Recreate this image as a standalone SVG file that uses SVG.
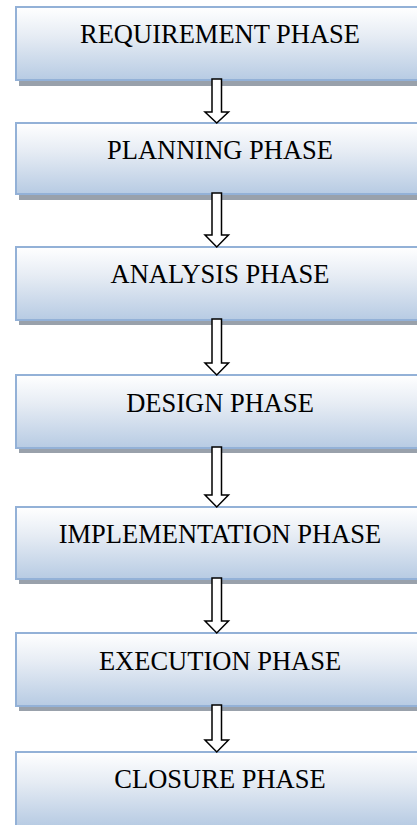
<svg xmlns="http://www.w3.org/2000/svg" width="417" height="825" viewBox="0 0 417 825">
<defs>
<linearGradient id="g" x1="0" y1="0" x2="0" y2="1">
<stop offset="0" stop-color="#ffffff"/>
<stop offset="0.4" stop-color="#e6ecf4"/>
<stop offset="1" stop-color="#b7cbe3"/>
</linearGradient>
<style>
.box{fill:url(#g);stroke:#93b1d7;stroke-width:2}
.sh{fill:#99a1ab}
.t{font-family:"Liberation Serif","Times New Roman",serif;font-size:26.5px;fill:#000;text-anchor:middle}
.arr{fill:#fff;stroke:#000;stroke-width:1.5;stroke-linejoin:miter}
</style>
</defs>
<rect width="417" height="825" fill="#fff"/>
<g id="n1"><rect class="sh" x="19" y="12" width="408" height="74"/><rect class="box" x="16" y="7" width="408" height="73"/><text class="t" x="220" y="43">REQUIREMENT PHASE</text></g>
<g id="n2"><rect class="sh" x="19" y="128" width="408" height="72"/><rect class="box" x="16" y="123" width="408" height="71"/><text class="t" x="220" y="159">PLANNING PHASE</text></g>
<g id="n3"><rect class="sh" x="19" y="252" width="408" height="73"/><rect class="box" x="16" y="247" width="408" height="73"/><text class="t" x="220" y="283">ANALYSIS PHASE</text></g>
<g id="n4"><rect class="sh" x="19" y="380" width="408" height="73"/><rect class="box" x="16" y="375" width="408" height="73"/><text class="t" x="220" y="412">DESIGN PHASE</text></g>
<g id="n5"><rect class="sh" x="19" y="512" width="408" height="72"/><rect class="box" x="16" y="507" width="408" height="72"/><text class="t" x="220" y="543">IMPLEMENTATION PHASE</text></g>
<g id="n6"><rect class="sh" x="19" y="638" width="408" height="73"/><rect class="box" x="16" y="633" width="408" height="73"/><text class="t" x="220" y="670">EXECUTION PHASE</text></g>
<g id="n7"><rect class="box" x="16" y="752" width="408" height="74"/><text class="t" x="220" y="788">CLOSURE PHASE</text></g>
<g id="connectors">
<path class="arr" d="M212,79 H221.5 V112 H228.5 L216.75,123 L205,112 H212 Z"/>
<path class="arr" d="M212,193 H221.5 V235 H228.5 L216.75,247 L205,235 H212 Z"/>
<path class="arr" d="M212,319 H221.5 V363 H228.5 L216.75,375 L205,363 H212 Z"/>
<path class="arr" d="M212,447 H221.5 V495 H228.5 L216.75,507 L205,495 H212 Z"/>
<path class="arr" d="M212,578 H221.5 V621 H228.5 L216.75,633 L205,621 H212 Z"/>
<path class="arr" d="M212,705 H221.5 V740 H228.5 L216.75,752 L205,740 H212 Z"/>
</g>
</svg>
